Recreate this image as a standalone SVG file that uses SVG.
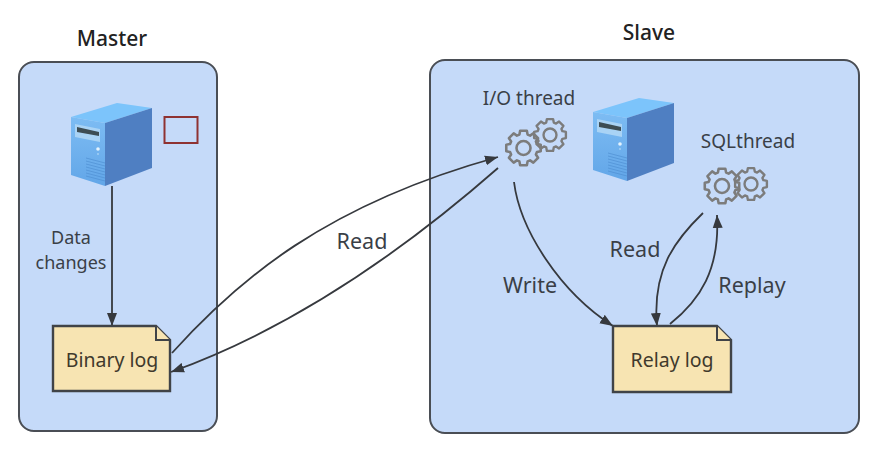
<svg xmlns="http://www.w3.org/2000/svg" width="881" height="453" viewBox="0 0 881 453">
  <style>
    text { font-family: "Noto Sans", "Open Sans", "Liberation Sans", sans-serif; fill: #3a3f47; text-anchor: middle; }
    .panel { fill: #c5daf9; stroke: #4a4e55; stroke-width: 2; }
    .title { font-size: 21px; font-weight: 500; fill: #222222; }
    .label { font-size: 21.5px; }
    .small { font-size: 19px; }
    .note { font-size: 18px; }
    .doc { fill: #f7e4b2; stroke: #404347; stroke-width: 2.4; stroke-linejoin: miter; }
    .fold { fill: #f7e4b2; stroke: #404347; stroke-width: 2; }
    .doctext { font-size: 19.500px; fill: #40392c; }
    .gear { fill: none; stroke: #7c7c7c; stroke-width: 2.2; stroke-linejoin: round; }
    .link { fill: none; stroke: #36393e; stroke-width: 1.8; }
    .arrow { marker-end: url(#head); }
  </style>
  <defs>
    <marker id="head" markerUnits="userSpaceOnUse" markerWidth="14" markerHeight="11" refX="13" refY="5.500" orient="auto">
      <path d="M0 0.5 L13 5.5 L0 10.5 Z" fill="#36393e"/>
    </marker>
    <linearGradient id="front" x1="0" y1="0" x2="0" y2="1">
      <stop offset="0" stop-color="#7dbcf3"/>
      <stop offset="1" stop-color="#62a6e8"/>
    </linearGradient>
    <g id="server">
      <path d="M0 0 L46 -14 L81 -9 L34 6 Z" fill="#7cc4fb"/>
      <path d="M0 0 L34 6 L34 69 L0 58 Z" fill="url(#front)"/>
      <path d="M34 6 L81 -9 L81 51 L34 69 Z" fill="#4f7fc2"/>
      <path d="M4 7 L29 12 L29 25 L4 20 Z" fill="#a9d3f5"/>
      <path d="M6 10 L28 15 L28 19 L6 15 Z" fill="#3d4d54"/>
      <circle cx="27" cy="32" r="1.800" fill="#e4f3fd"/>
      <circle cx="27" cy="37" r="0.900" fill="#a9d3f5"/>
      <path d="M15 41 L34 46 M15 44 L34 49 M15 47 L34 52 M15 50 L34 55 M15 53 L34 58 M15 56 L34 61 M15 59 L34 64" stroke="#4f8fd3" stroke-width="0.7" fill="none"/>
    </g>
    <!-- eight-toothed gear outline with a round hole -->
    <path id="gearshape" d="M11.48 -3.51 L14.72 -2.86 L14.72 2.86 L11.48 3.51 L10.6 5.63 L12.44 8.39 L8.39 12.44 L5.63 10.6 L3.51 11.48 L2.86 14.72 L-2.86 14.72 L-3.51 11.48 L-5.63 10.6 L-8.39 12.44 L-12.44 8.39 L-10.6 5.63 L-11.48 3.51 L-14.72 2.86 L-14.72 -2.86 L-11.48 -3.51 L-10.6 -5.63 L-12.44 -8.39 L-8.39 -12.44 L-5.63 -10.6 L-3.51 -11.48 L-2.86 -14.72 L2.86 -14.72 L3.51 -11.48 L5.63 -10.6 L8.39 -12.44 L12.44 -8.39 L10.6 -5.63 Z M6 0 A6 6 0 1 0 -6 0 A6 6 0 1 0 6 0 Z"/>
  </defs>

  <rect width="881" height="453" fill="#ffffff"/>

  <g id="master">
    <rect class="panel" x="19" y="62" width="198" height="369" rx="15"/>
    <text class="title" x="112" y="46">Master</text>
    <use href="#server" x="71" y="117"/>
    <rect x="164.500" y="117" width="33" height="26" fill="none" stroke="#8f3232" stroke-width="2"/>
  </g>

  <g id="slave">
    <rect class="panel" x="430" y="60" width="429" height="373" rx="15"/>
    <text class="title" x="649" y="40">Slave</text>
    <use href="#server" x="593" y="112"/>
  </g>

  <g id="io-thread">
    <text class="small" x="529" y="105">I/O thread</text>
    <use href="#gearshape" class="gear" transform="translate(523.500 148) scale(1.17)"/>
    <use href="#gearshape" class="gear" transform="translate(550 135) scale(1.08)"/>
  </g>

  <g id="sql-thread">
    <text class="small" x="748" y="148">SQLthread</text>
    <use href="#gearshape" class="gear" transform="translate(722 186) scale(1.17)"/>
    <use href="#gearshape" class="gear" transform="translate(751 184) scale(1.08)"/>
  </g>

  <g id="connectors">
    <path class="link arrow" d="M112 186 L112 326"/>
    <path class="link arrow" d="M172 353 C238 280 325 205 498 157"/>
    <path class="link arrow" d="M498 168 C425 232 310 322 171 372"/>
    <path class="link arrow" d="M514 182 C520 230 560 292 613 326"/>
    <path class="link arrow" d="M703 213 C675 240 652 270 657 326"/>
    <path class="link arrow" d="M670 324 C700 300 720 270 717 215"/>
  </g>

  <g id="connector-labels">
    <text class="note" x="71" y="244">Data</text>
    <text class="note" x="71" y="269">changes</text>
    <text class="label" x="362" y="249">Read</text>
    <text class="label" x="530" y="293">Write</text>
    <text class="label" x="635" y="257">Read</text>
    <text class="label" x="752" y="293">Replay</text>
  </g>

  <g id="binary-log">
    <path class="doc" d="M53 326 L156 326 L170 340 L170 391 L53 391 Z"/>
    <path class="fold" d="M156 326 L156 340 L170 340"/>
    <text class="doctext" x="112" y="367">Binary log</text>
  </g>

  <g id="relay-log">
    <path class="doc" d="M613 326 L717 326 L731 340 L731 392 L613 392 Z"/>
    <path class="fold" d="M717 326 L717 340 L731 340"/>
    <text class="doctext" x="672" y="367">Relay log</text>
  </g>
</svg>
